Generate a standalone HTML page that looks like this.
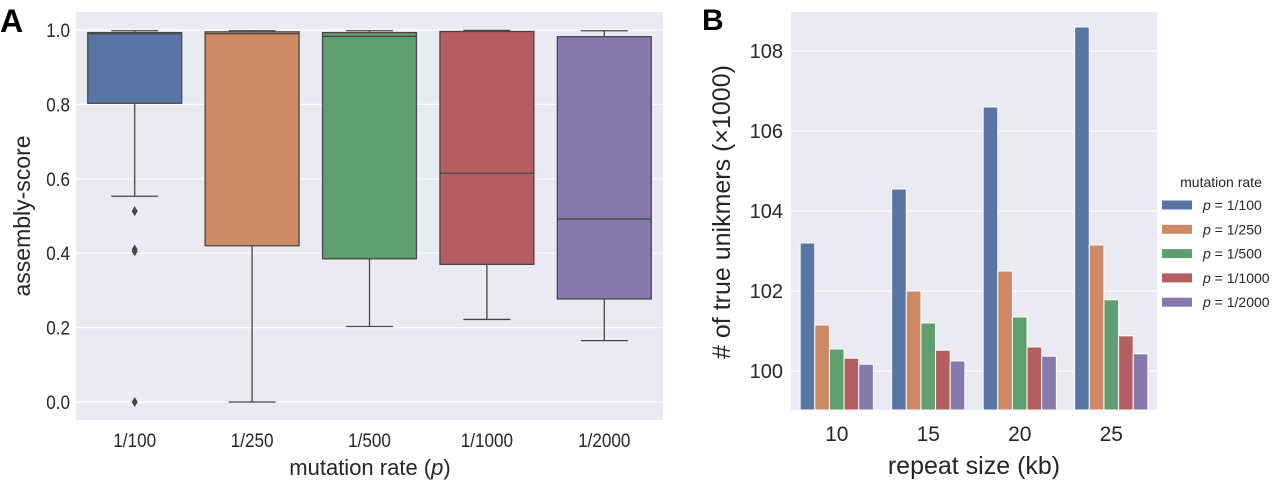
<!DOCTYPE html>
<html><head><meta charset="utf-8"><style>
body{margin:0;background:#fff;width:1280px;height:482px;overflow:hidden}
svg{font-family:"Liberation Sans",sans-serif}
</style></head><body>
<svg id="c" width="1280" height="482"></svg>
<script>
const catsA=["1/100","1/250","1/500","1/1000","1/2000"];
const whiskHi=[0.998,0.998,0.998,0.999,0.998];
const q3=[0.993,0.995,0.993,0.996,0.982];
const med=[0.99,0.99,0.983,0.615,0.492];
const q1=[0.803,0.42,0.385,0.37,0.277];
const whiskLo=[0.553,0.0,0.203,0.222,0.165];
const outliers=[[0.513,0.41,0.405,0.0],[],[],[],[]];
const ticksA=[0,0.2,0.4,0.6,0.8,1.0];
const catsB=["10","15","20","25"];
const seriesB=["p = 1/100","p = 1/250","p = 1/500","p = 1/1000","p = 1/2000"];
const valsB=[[103.2,104.55,106.6,108.6],[101.15,102.0,102.5,103.15],[100.55,101.2,101.35,101.78],[100.32,100.52,100.6,100.88],[100.17,100.25,100.37,100.43]];
const ticksB=[100,102,104,106,108];
const colors=["#5975a4","#cc8963","#5f9e6e","#b55d60","#857aab"];
const NS="http://www.w3.org/2000/svg",svg=document.getElementById('c');
function mk(t,a,txt){const e=document.createElementNS(NS,t);for(const k in a)e.setAttribute(k,a[k]);if(txt!=null)e.textContent=txt;svg.appendChild(e);return e;}
// Panel A
const ax={l:76,r:663,t:12,b:420};
const yA=v=>402-v*372;
const bandA=(ax.r-ax.l)/catsA.length;
const xA=i=>ax.l+bandA*(i+0.5);
let e=mk('rect',{x:ax.l,y:ax.t,width:ax.r-ax.l,height:ax.b-ax.t,fill:'#eaeaf2'});

ticksA.forEach(t=>{
 e=mk('line',{x1:ax.l,x2:ax.r,y1:yA(t),y2:yA(t),stroke:'#fff','stroke-width':1.2});
 
 e=mk('text',{x:ax.l-6,y:yA(t)+7,'text-anchor':'end','font-size':19,fill:'#262626',transform:`translate(${ax.l-6},${yA(t)}) scale(0.9,1) translate(${-(ax.l-6)},${-yA(t)})`},t.toFixed(1));
 
});
const bw=bandA*0.8,lc='#474747';
catsA.forEach((c,i)=>{
 const cx=xA(i);
 e=mk('line',{x1:cx,x2:cx,y1:yA(whiskHi[i]),y2:yA(q3[i]),stroke:lc,'stroke-width':1.3});
 
 e=mk('line',{x1:cx,x2:cx,y1:yA(q1[i]),y2:yA(whiskLo[i]),stroke:lc,'stroke-width':1.3});
 
 [whiskHi[i],whiskLo[i]].forEach(v=>{e=mk('line',{x1:cx-bw/4,x2:cx+bw/4,y1:yA(v),y2:yA(v),stroke:lc,'stroke-width':1.3});
 });
 e=mk('rect',{x:cx-bw/2,y:yA(q3[i]),width:bw,height:yA(q1[i])-yA(q3[i]),fill:colors[i],stroke:lc,'stroke-width':1.3});
 
 e=mk('line',{x1:cx-bw/2,x2:cx+bw/2,y1:yA(med[i]),y2:yA(med[i]),stroke:lc,'stroke-width':1.3});
 
 outliers[i].forEach(v=>{e=mk('path',{d:`M${cx},${yA(v)-5}L${cx+3},${yA(v)}L${cx},${yA(v)+5}L${cx-3},${yA(v)}Z`,fill:lc});
 });
 e=mk('text',{x:cx,y:447,'text-anchor':'middle','font-size':19,fill:'#262626',transform:`translate(${cx},0) scale(0.9,1) translate(${-cx},0)`},c);
 
});
e=mk('text',{x:370,y:475,'text-anchor':'middle','font-size':22,fill:'#262626'});
e.innerHTML='mutation rate (<tspan font-style="italic">p</tspan>)';

e=mk('text',{x:0,y:0,transform:'translate(30,216) rotate(-90)','text-anchor':'middle','font-size':23,fill:'#262626'},'assembly-score');

e=mk('text',{x:0,y:32,'font-size':32,'font-weight':'bold',fill:'#000'},'A');

// Panel B
const bx={l:791,r:1157,t:12,b:410};
const yB=v=>371-(v-100)*40;
const bandB=(bx.r-bx.l)/catsB.length;
e=mk('rect',{x:bx.l,y:bx.t,width:bx.r-bx.l,height:bx.b-bx.t,fill:'#eaeaf2'});

ticksB.forEach(t=>{
 e=mk('line',{x1:bx.l,x2:bx.r,y1:yB(t),y2:yB(t),stroke:'#fff','stroke-width':1.2});
 
 e=mk('text',{x:bx.l-8,y:yB(t)+7,'text-anchor':'end','font-size':20,fill:'#262626'},t);
 
});
const gw=bandB*0.8,sw=gw/seriesB.length;
catsB.forEach((c,i)=>{
 const g0=bx.l+bandB*i+bandB*0.1;
 seriesB.forEach((s,j)=>{
  e=mk('rect',{x:g0+sw*j,y:yB(valsB[j][i]),width:sw,height:bx.b-yB(valsB[j][i]),fill:colors[j],stroke:'#fff','stroke-width':1});
  
 });
 e=mk('text',{x:bx.l+bandB*(i+0.5),y:441,'text-anchor':'middle','font-size':21,fill:'#262626'},c);
 
});
e=mk('text',{x:974,y:474,'text-anchor':'middle','font-size':25,fill:'#262626'},'repeat size (kb)');

e=mk('text',{x:0,y:0,transform:'translate(730,212) rotate(-90)','text-anchor':'middle','font-size':25,fill:'#262626'},'# of true unikmers (×1000)');

e=mk('text',{x:702,y:30,'font-size':30,'font-weight':'bold',fill:'#000'},'B');

e=mk('text',{x:1221,y:187,'text-anchor':'middle','font-size':14,fill:'#262626'},'mutation rate');

seriesB.forEach((s,j)=>{
 const cy=205+j*24.3;
 e=mk('rect',{x:1162,y:cy-4.5,width:30,height:9,fill:colors[j]});
 
 e=mk('text',{x:1203,y:cy+5,'font-size':14,fill:'#262626'});
 e.innerHTML='<tspan font-style="italic">p</tspan>'+s.slice(1);
 
});
</script>
</body></html>
